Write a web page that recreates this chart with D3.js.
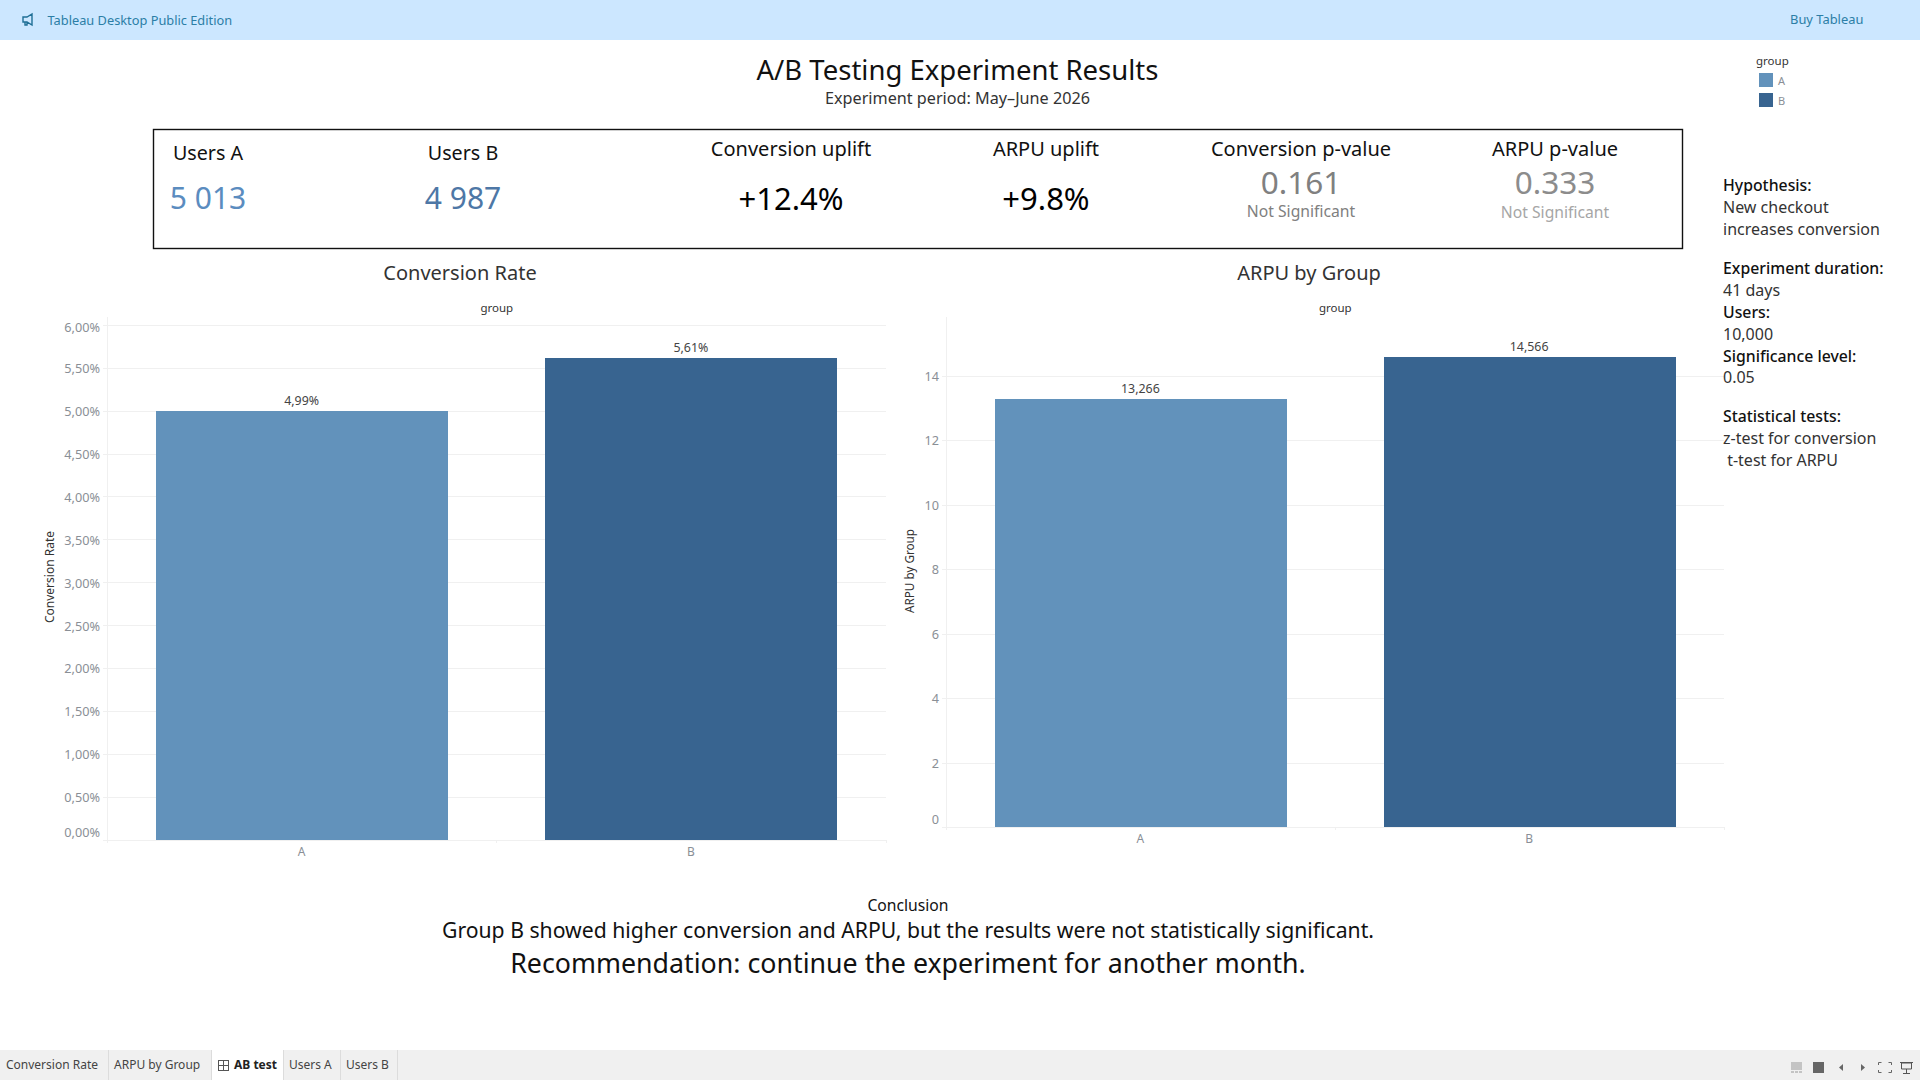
<!DOCTYPE html>
<html>
<head>
<meta charset="utf-8">
<title>A/B Testing Experiment Results</title>
<script src="https://cdn.jsdelivr.net/npm/d3@7"></script>
<style>
  html, body { margin: 0; padding: 0; background: #fff; overflow: hidden; }
  svg { display: block; font-family: "Noto Sans", "Open Sans", sans-serif; }
  .axis .domain { display: none; }
  .axis .tick line { stroke: #f0f0f0; stroke-width: 1; shape-rendering: crispEdges; }
  .axis .tick text { fill: #8a8f96; font-size: 12.7px; font-family: "Noto Sans", sans-serif; }
</style>
</head>
<body>
<svg id="board" width="1920" height="1080"></svg>
<script>
// Experiment figures
const groups = ["A", "B"];
const conversionRates = [4.99, 5.61];
const arpuValues = [13.266, 14.566];
const conversionTicks = [0, 0.5, 1, 1.5, 2, 2.5, 3, 3.5, 4, 4.5, 5, 5.5, 6];
const arpuTicks = [0, 2, 4, 6, 8, 10, 12, 14];
const usersLabels = ["Users A", "Users B"];
const usersValues = ["5 013", "4 987"];
const upliftLabels = ["Conversion uplift", "ARPU uplift"];
const upliftValues = ["+12.4%", "+9.8%"];
const pValueLabels = ["Conversion p-value", "ARPU p-value"];
const pValues = ["0.161", "0.333"];
const pVerdicts = ["Not Significant", "Not Significant"];
const sideNotes = [
  ["Hypothesis:", true], ["New checkout", false], ["increases conversion", false],
  ["Experiment duration:", true], ["41 days", false],
  ["Users:", true], ["10,000", false],
  ["Significance level:", true], ["0.05", false],
  ["Statistical tests:", true], ["z-test for conversion", false], [" t-test for ARPU", false]
];
const sheetTabs = ["Conversion Rate", "ARPU by Group", "AB test", "Users A", "Users B"];

const svg = d3.select("#board");
const groupColor = d3.scaleOrdinal().domain(groups).range(["#6292bb", "#386490"]);

function label(parent, str, x, y, size, opts = {}) {
  return parent.append("text")
    .attr("x", x).attr("y", y)
    .attr("font-size", size)
    .attr("font-weight", opts.weight || 400)
    .attr("fill", opts.fill || "#000")
    .attr("text-anchor", opts.anchor || "middle")
    .attr("xml:space", "preserve")
    .text(str);
}

// Top banner
const banner = svg.append("g");
banner.append("rect").attr("width", 1920).attr("height", 40).attr("fill", "#cce7ff");
banner.append("path")
  .attr("d", "M23 17 L27 17 L32 14 L32 25 L27 22 L23 22 Z M25 22 L25 25 L27 25 L27 22")
  .attr("fill", "none").attr("stroke", "#1f6f96").attr("stroke-width", 1.4);
label(banner, "Tableau Desktop Public Edition", 47.5, 24.5, 12.8, { anchor: "start", fill: "#2b7ea6" });
label(banner, "Buy Tableau", 1790, 24, 12.9, { anchor: "start", fill: "#2b7ea6" });

// Heading
label(svg, "A/B Testing Experiment Results", 957.5, 80, 27.5, { fill: "#111" });
label(svg, "Experiment period: May–June 2026", 957.5, 104, 16.2, { fill: "#333" });

// Legend
const legend = svg.append("g");
label(legend, "group", 1756, 65, 11.5, { anchor: "start", fill: "#333" });
groups.forEach((g, i) => {
  legend.append("rect").attr("x", 1759).attr("y", 73 + i * 20).attr("width", 14).attr("height", 14).attr("fill", groupColor(g));
  label(legend, g, 1778, 84.5 + i * 20, 11, { anchor: "start", fill: "#8a8f96" });
});

// KPI strip
const kpi = svg.append("g");
kpi.append("rect").attr("x", 153.5).attr("y", 129.5).attr("width", 1529).attr("height", 119)
  .attr("fill", "none").attr("stroke", "#111").attr("stroke-width", 1.4);
[208, 463].forEach((cx, i) => {
  label(kpi, usersLabels[i], cx, 160, 19.7, { fill: "#111" });
  label(kpi, usersValues[i], cx, 208.5, 30, { fill: i ? "#4e77a6" : "#5b8cbf" });
});
[791, 1046].forEach((cx, i) => {
  label(kpi, upliftLabels[i], cx, 156, 20, { fill: "#111" });
  label(kpi, upliftValues[i], cx, 210, 31, { fill: "#000" });
});
[1301, 1555].forEach((cx, i) => {
  label(kpi, pValueLabels[i], cx, 156, 20, { fill: "#111" });
  label(kpi, pValues[i], cx, 194, 31.5, { fill: i ? "#8c8c8c" : "#808080" });
  label(kpi, pVerdicts[i], cx, i ? 218 : 217, 15.7, { fill: i ? "#a6a6a6" : "#808080" });
});

// One bar chart panel: shared layout for both measures
function barPanel(cfg) {
  const g = svg.append("g");
  const x = d3.scaleBand().domain(groups).range([cfg.left, cfg.right]).paddingInner(0).paddingOuter(0);
  const y = d3.scaleLinear().domain([0, cfg.maxValue]).range([cfg.bottom, cfg.top]);
  const barWidth = 292;
  const lowest = cfg.ticks[0], highest = cfg.ticks[cfg.ticks.length - 1];

  // Light grid, drawn through the axis tick lines
  const axis = g.append("g").attr("class", "axis")
    .attr("transform", `translate(${cfg.left},0)`)
    .call(d3.axisLeft(y).tickValues(cfg.ticks).tickFormat(cfg.tickFormat)
      .tickSizeInner(-(cfg.right - cfg.left)).tickSizeOuter(0).tickPadding(8));
  axis.selectAll(".tick text").attr("x", -7.5)
    .attr("dy", d => d === lowest ? "-0.28em" : (d === highest && cfg.nudgeTop ? "0.5em" : "0.37em"));
  axis.selectAll(".tick").filter(d => d === lowest).select("line").remove();
  axis.selectAll(".tick").filter(d => d !== lowest).append("line")
    .attr("x1", -5).attr("x2", 0);

  // Frame: vertical axis line, baseline and category separators
  const rule = (x1, y1, x2, y2) => g.append("line")
    .attr("x1", x1).attr("y1", y1).attr("x2", x2).attr("y2", y2)
    .attr("stroke", "#f0f0f0").attr("shape-rendering", "crispEdges");
  rule(cfg.left, cfg.top, cfg.left, cfg.bottom + 3);
  rule(cfg.left - 5, cfg.bottom, cfg.right, cfg.bottom);
  [cfg.left, cfg.left + x.step(), cfg.right].forEach(px => rule(px, cfg.bottom, px, cfg.bottom + 3));

  g.selectAll("rect.bar").data(groups).join("rect").attr("class", "bar")
    .attr("x", d => x(d) + x.bandwidth() / 2 - barWidth / 2)
    .attr("width", barWidth)
    .attr("y", (d, i) => y(cfg.values[i]))
    .attr("height", (d, i) => cfg.bottom - y(cfg.values[i]))
    .attr("fill", d => groupColor(d))
    .attr("shape-rendering", "crispEdges");

  g.selectAll("text.value").data(groups).join("text").attr("class", "value")
    .attr("x", d => x(d) + x.bandwidth() / 2 - 0.5)
    .attr("y", (d, i) => y(cfg.values[i]) - 6.3)
    .attr("text-anchor", "middle").attr("font-size", 12.4).attr("fill", "#444")
    .text((d, i) => cfg.valueFormat(cfg.values[i]));

  g.selectAll("text.cat").data(groups).join("text").attr("class", "cat")
    .attr("x", d => x(d) + x.bandwidth() / 2 - 0.5)
    .attr("y", cfg.bottom + 16)
    .attr("text-anchor", "middle").attr("font-size", 12).attr("fill", "#8a8f96")
    .text(d => d);

  label(g, cfg.title, cfg.titleX, 280, 20, { fill: "#333" });
  label(g, "group", cfg.left + x.step(), 312, 11.5, { fill: "#333" });
  g.append("text")
    .attr("transform", `translate(${cfg.axisTitleX},${cfg.axisTitleY}) rotate(-90)`)
    .attr("text-anchor", "middle").attr("font-size", cfg.axisTitleSize).attr("fill", "#333")
    .text(cfg.title);
}

const comma = (v, digits) => v.toFixed(digits).replace(".", ",");

barPanel({
  title: "Conversion Rate", titleX: 460, axisTitleX: 54, axisTitleY: 577, axisTitleSize: 12,
  left: 107.5, right: 886, top: 317, bottom: 840, nudgeTop: true,
  maxValue: 6.09, values: conversionRates, ticks: conversionTicks,
  tickFormat: d => comma(d, 2) + "%", valueFormat: d => comma(d, 2) + "%"
});

barPanel({
  title: "ARPU by Group", titleX: 1309, axisTitleX: 914, axisTitleY: 571, axisTitleSize: 11.7,
  left: 946.5, right: 1724, top: 317, bottom: 827,
  maxValue: 15.82, values: arpuValues, ticks: arpuTicks,
  tickFormat: d => String(d), valueFormat: d => comma(d, 3)
});

// Side notes
const notes = svg.append("g");
const noteBaselines = [191, 213, 235, 274, 296, 318, 340, 362, 383, 422, 444, 466];
sideNotes.forEach(([str, strong], i) => {
  label(notes, str, 1723, noteBaselines[i], strong ? 15.8 : 16, { anchor: "start", weight: strong ? 500 : 400, fill: strong ? "#111" : "#333" });
});

// Conclusion block
label(svg, "Conclusion", 908, 911, 15.7, { fill: "#111" });
label(svg, "Group B showed higher conversion and ARPU, but the results were not statistically significant.", 908, 938, 21.2, { fill: "#111" });
label(svg, "Recommendation: continue the experiment for another month.", 908, 973, 26.75, { fill: "#111" });

// Sheet tabs
const tabs = svg.append("g");
tabs.append("rect").attr("y", 1050).attr("width", 1920).attr("height", 30).attr("fill", "#f0f0f0");
tabs.append("rect").attr("x", 211).attr("y", 1050).attr("width", 72).attr("height", 30).attr("fill", "#fff");
[108, 211, 283, 340, 397].forEach(px => tabs.append("line")
  .attr("x1", px).attr("x2", px).attr("y1", 1050).attr("y2", 1080)
  .attr("stroke", "#dcdcdc").attr("shape-rendering", "crispEdges"));
const tabX = [6, 114, 234, 289, 346];
sheetTabs.forEach((t, i) => {
  label(tabs, t, tabX[i], 1069, 12, { anchor: "start", weight: i === 2 ? 700 : 400, fill: i === 2 ? "#222" : "#444" });
});
tabs.append("path").attr("d", "M218.5 1060.5 h10 v10 h-10 Z M223.5 1060.5 v10 M218.5 1065.5 h10")
  .attr("fill", "none").attr("stroke", "#555").attr("shape-rendering", "crispEdges");

// View controls at the lower right
const ctl = svg.append("g");
ctl.append("rect").attr("x", 1791).attr("y", 1062).attr("width", 11).attr("height", 8).attr("fill", "#c4c4c4");
[1791, 1795, 1799].forEach(px => ctl.append("rect").attr("x", px).attr("y", 1071).attr("width", 3).attr("height", 2).attr("fill", "#c4c4c4"));
ctl.append("rect").attr("x", 1813).attr("y", 1062).attr("width", 11).attr("height", 11).attr("fill", "#666");
ctl.append("path").attr("d", "M1843 1064 L1839 1067.5 L1843 1071 Z").attr("fill", "#666");
ctl.append("path").attr("d", "M1861 1064 L1865 1067.5 L1861 1071 Z").attr("fill", "#666");
ctl.append("path")
  .attr("d", "M1878.5 1065 v-2.5 h3 M1888.5 1062.5 h3 v2.5 M1891.5 1070 v2.5 h-3 M1881.5 1072.5 h-3 v-2.5")
  .attr("fill", "none").attr("stroke", "#666");
ctl.append("path")
  .attr("d", "M1900 1062.5 h13 M1901.5 1063 h10 v6 h-10 Z M1906.5 1069 v4 M1903 1073.5 h7")
  .attr("fill", "none").attr("stroke", "#555");
</script>
</body>
</html>
